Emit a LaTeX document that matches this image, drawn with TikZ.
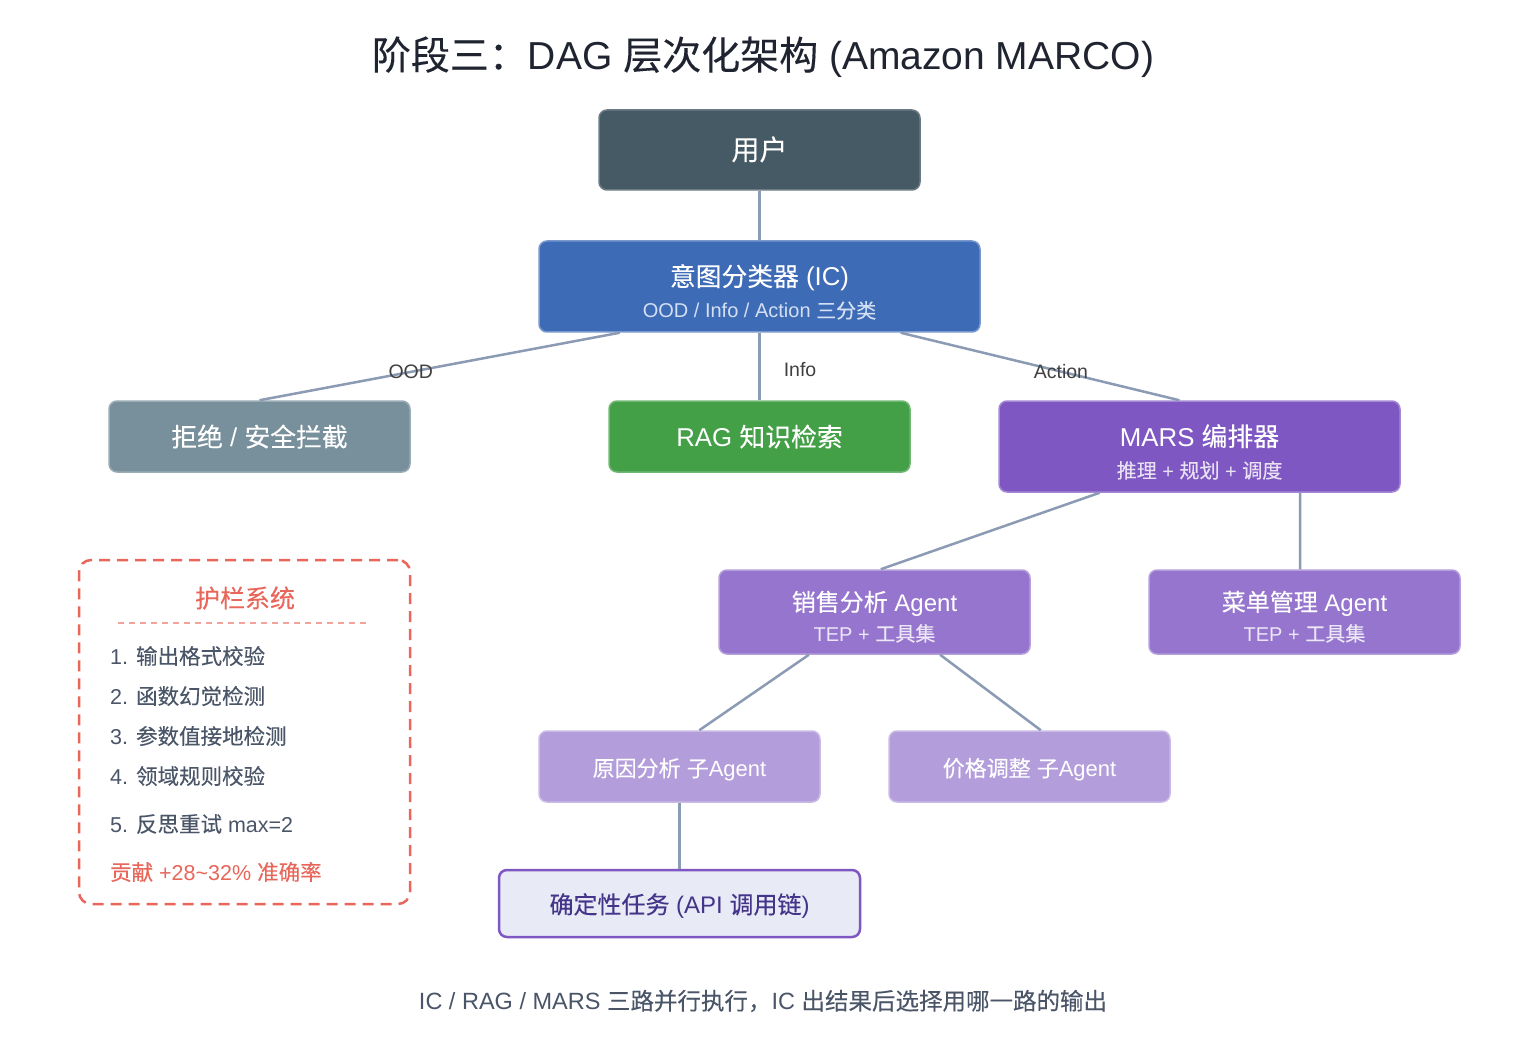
\documentclass[tikz,border=0pt]{standalone}
\usepackage{fontspec}
\setmainfont{Liberation Sans}
\newfontfamily\cjk{Noto Sans CJK SC}[FakeBold=0.2]
% CJK runs switch to the CJK family, Latin runs back to the main font
\newXeTeXintercharclass\cjkclass
\count255="4E00
\loop \XeTeXcharclass\count255=\cjkclass \advance\count255 by 1 \ifnum\count255<"A000 \repeat
\count255="3000
\loop \XeTeXcharclass\count255=\cjkclass \advance\count255 by 1 \ifnum\count255<"3040 \repeat
\count255="FF00
\loop \XeTeXcharclass\count255=\cjkclass \advance\count255 by 1 \ifnum\count255<"FFF0 \repeat
\XeTeXinterchartoks 0 \cjkclass = {\cjk}
\XeTeXinterchartoks 4095 \cjkclass = {\cjk}
\XeTeXinterchartoks \cjkclass 0 = {\rmfamily}
\XeTeXinterchartoks \cjkclass 4095 = {\rmfamily}
\XeTeXinterchartokenstate=1
\usetikzlibrary{calc}
\definecolor{titlecol}{HTML}{1F2430}
\definecolor{userfill}{HTML}{465A66}
\definecolor{icfill}{HTML}{3E6BB6}
\definecolor{icsub}{HTML}{D3DFF2}
\definecolor{rejectfill}{HTML}{78909C}
\definecolor{ragfill}{HTML}{43A047}
\definecolor{marsfill}{HTML}{7E57C2}
\definecolor{agentfill}{HTML}{9575CD}
\definecolor{subfill}{HTML}{B39DDB}
\definecolor{apifill}{HTML}{E8EAF6}
\definecolor{apitext}{HTML}{45358A}
\definecolor{linkgray}{HTML}{8C9BB4}
\definecolor{guardred}{HTML}{E8665A}
\definecolor{slate}{HTML}{4A5568}
\newcommand{\fsz}[2]{\fontsize{#1}{#2}\selectfont}

\begin{document}
\begin{tikzpicture}[
  x=1pt, y=-1pt,
  box/.style={rectangle, rounded corners=8pt, inner sep=0pt, align=center,
              text=white, line width=1.5pt, font=\fsz{25.8}{32},
              text height=20pt, text depth=0pt},
  twoline/.style={text height=63pt},
  link/.style={draw=linkgray, line width=2.5pt},
  elabel/.style={font=\fsz{19.5}{22}, text=black!75, inner sep=1pt},
  guard/.style={rectangle, rounded corners=12pt, draw=guardred, line width=2.5pt,
                dash pattern=on 11pt off 7pt},
  item/.style={anchor=west, font=\fsz{21.5}{24}, text=slate, inner sep=0pt},
]
\useasboundingbox[fill=white] (0,0) rectangle (1520,1040);

% title
\node[font=\fsz{39}{44}, text=titlecol] (title) at (763,57) {阶段三：DAG 层次化架构 (Amazon MARCO)};

% nodes
\node[box, fill=userfill, draw=userfill!80!white, minimum width=321pt, minimum height=80pt, font=\fsz{28}{32}]
  (user) at (759.5,150) {用户};
\node[box, twoline, fill=icfill, draw=icfill!70!white, minimum width=441pt, minimum height=91pt]
  (ic) at (759.5,286.5) {意图分类器 (IC)\\[0pt]{\fsz{20}{24}\color{icsub}OOD / Info / Action 三分类}};
\node[box, fill=rejectfill, draw=rejectfill!75!white, minimum width=301pt, minimum height=71pt]
  (reject) at (259.5,436.5) {拒绝 / 安全拦截};
\node[box, fill=ragfill, draw=ragfill!75!white, minimum width=301pt, minimum height=71pt]
  (rag) at (759.5,436.5) {RAG 知识检索};
\node[box, twoline, fill=marsfill, draw=marsfill!70!white, minimum width=401pt, minimum height=91pt]
  (mars) at (1199.5,446.5) {MARS 编排器\\[0pt]{\fsz{20}{24}\color{white!82!marsfill}推理 + 规划 + 调度}};
\node[box, twoline, text height=58pt, fill=agentfill, draw=agentfill!70!white, minimum width=311pt, minimum height=84pt, font=\fsz{24}{30}]
  (sales) at (874.5,612) {销售分析 Agent\\[0pt]{\fsz{20}{24}\color{white!82!agentfill}TEP + 工具集}};
\node[box, twoline, text height=58pt, fill=agentfill, draw=agentfill!70!white, minimum width=311pt, minimum height=84pt, font=\fsz{24}{30}]
  (menu) at (1304.5,612) {菜单管理 Agent\\[0pt]{\fsz{20}{24}\color{white!82!agentfill}TEP + 工具集}};
\node[box, fill=subfill, draw=subfill!70!white, minimum width=281pt, minimum height=71pt, font=\fsz{22}{28}]
  (cause) at (679.5,766.5) {原因分析 子Agent};
\node[box, fill=subfill, draw=subfill!70!white, minimum width=281pt, minimum height=71pt, font=\fsz{22}{28}]
  (price) at (1029.5,766.5) {价格调整 子Agent};
\node[box, fill=apifill, draw=marsfill, text=apitext, line width=2.5pt, minimum width=361pt, minimum height=67pt, font=\fsz{24}{28}]
  (api) at (679.5,903.5) {确定性任务 (API 调用链)};

% connectors
\draw[link] (user) -- (ic);
\draw[link] ($(ic.south west)!.184!(ic.south east)$) -- node[elabel, pos=.58] {OOD} (reject.north);
\draw[link] (ic) -- node[elabel, pos=.54, right=22pt] {Info} (rag);
\draw[link] ($(ic.south west)!.819!(ic.south east)$) -- node[elabel, pos=.575] {Action}
  ($(mars.north west)!.45!(mars.north east)$);
\draw[link] ($(mars.south west)!.252!(mars.south east)$) -- ($(sales.north west)!.52!(sales.north east)$);
\draw[link] ($(mars.south west)!.75!(mars.south east)$) -- ($(menu.north west)!.486!(menu.north east)$);
\draw[link] ($(sales.south west)!.29!(sales.south east)$) -- ($(cause.north west)!.57!(cause.north east)$);
\draw[link] ($(sales.south west)!.71!(sales.south east)$) -- ($(price.north west)!.54!(price.north east)$);
\draw[link] (cause) -- (api);

% guardrail panel
\node[guard, minimum width=331pt, minimum height=344pt] (guard) at (244.5,732) {};
\node[font=\fsz{25}{28}, text=guardred] (gtitle) at (245,598) {护栏系统};
\draw[guardred!60!white, line width=1.2pt, dash pattern=on 6pt off 5pt] (118,623) -- (368,623);
\foreach \y/\txt [count=\i] in {656/1. 输出格式校验, 696/2. 函数幻觉检测, 736/3. 参数值接地检测,
                                 776/4. 领域规则校验, 824/5. 反思重试 max=2}
  \node[item] (g\i) at (110,\y) {\txt};
\node[item, text=guardred] (gain) at (110,872) {贡献 +28\textasciitilde32\% 准确率};

% footnote
\node[font=\fsz{23.5}{26}, text=slate] (foot) at (763,1001) {IC / RAG / MARS 三路并行执行，IC 出结果后选择用哪一路的输出};
\end{tikzpicture}
\end{document}
